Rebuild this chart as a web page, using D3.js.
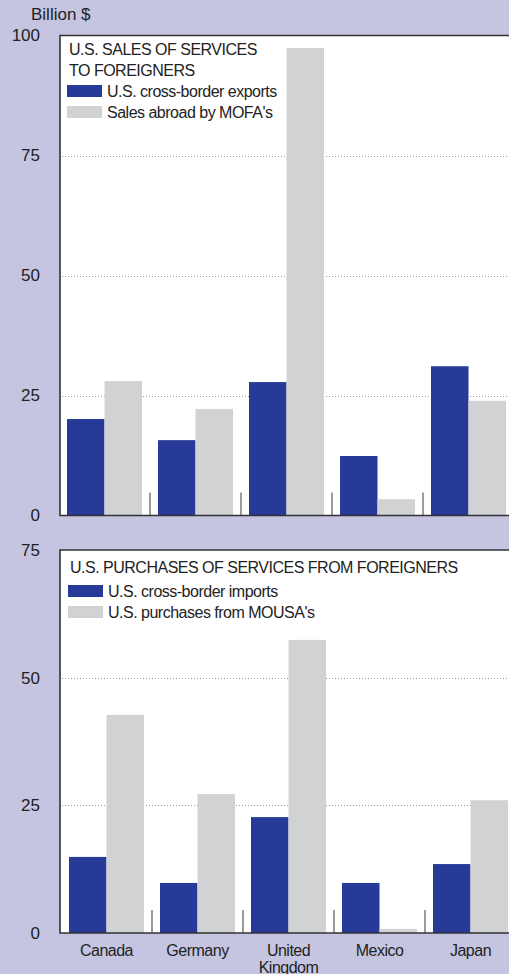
<!DOCTYPE html>
<html>
<head>
<meta charset="utf-8">
<script src="https://cdn.jsdelivr.net/npm/d3@7"></script>
<style>
  body { margin: 0; background: #c5c5e1; }
  svg { display: block; font-family: "Liberation Sans", Arial, Helvetica, sans-serif; }
  .tick text { fill: #222; font-size: 17px; }
  .lbl { fill: #222; font-size: 16px; letter-spacing: -0.5px; }
</style>
</head>
<body>
<div id="chart"></div>
<script>
var countries = ["Canada", "Germany", "United Kingdom", "Mexico", "Japan"];

// top panel: sales of services to foreigners
var crossBorderExports = [20.1, 15.7, 27.8, 12.4, 31.1];
var mofaSales = [28.0, 22.2, 97.4, 3.4, 23.9];

// bottom panel: purchases of services from foreigners
var crossBorderImports = [14.9, 9.8, 22.7, 9.8, 13.5];
var mousaPurchases = [42.7, 27.2, 57.4, 0.8, 26.0];

var topTicks = [0, 25, 50, 75, 100];
var bottomTicks = [0, 25, 50, 75];

var blue = "#273a97", grey = "#d1d2d4";

var width = 509, height = 974;
var svg = d3.select("#chart").append("svg")
    .attr("width", width).attr("height", height);

svg.append("text")
    .attr("class", "lbl")
    .attr("x", 31).attr("y", 20)
    .style("font-size", "17px").style("letter-spacing", "0px")
    .text("Billion $");

function drawPanel(cfg) {
  var g = svg.append("g");
  var left = 60;

  var x = d3.scaleBand().domain(countries).range(cfg.xRange);
  var x1 = d3.scaleBand().domain([0, 1]).range([8, 83]);
  var y = d3.scaleLinear().domain([0, cfg.max]).range(cfg.yRange);

  // white plot area
  g.append("rect")
      .attr("x", left).attr("y", y(cfg.max))
      .attr("width", width - left).attr("height", y(0) - y(cfg.max))
      .attr("fill", "#fff");

  // dotted gridlines
  g.selectAll(".grid")
    .data(cfg.ticks.filter(function(d) { return d > 0 && d < cfg.max; }))
    .enter().append("line")
      .attr("x1", left + 2).attr("x2", width)
      .attr("y1", function(d) { return Math.round(y(d)) + 0.5; })
      .attr("y2", function(d) { return Math.round(y(d)) + 0.5; })
      .attr("stroke", "#999").attr("stroke-dasharray", "1,2");

  // bars
  var groups = g.selectAll(".grp")
    .data(countries)
    .enter().append("g")
      .attr("transform", function(d) { return "translate(" + x(d) + ",0)"; });

  groups.selectAll("rect")
    .data(function(d, i) { return [cfg.a[i], cfg.b[i]]; })
    .enter().append("rect")
      .attr("x", function(d, j) { return x1(j); })
      .attr("width", x1.bandwidth())
      .attr("y", function(d) { return y(d); })
      .attr("height", function(d) { return y(0) - y(d); })
      .attr("fill", function(d, j) { return j === 0 ? blue : grey; });

  // small separators between groups
  g.selectAll(".sep")
    .data(countries.slice(1))
    .enter().append("line")
      .attr("x1", function(d) { return x(d); })
      .attr("x2", function(d) { return x(d); })
      .attr("y1", y(0)).attr("y2", y(0) - 23)
      .attr("stroke", "#666").attr("stroke-width", 1.3);

  // frame: top, left, bottom
  g.append("path")
      .attr("d", "M" + width + "," + y(cfg.max) + "H" + left + "V" + y(0) + "H" + width)
      .attr("fill", "none").attr("stroke", "#333").attr("stroke-width", 1.6);

  // y axis labels
  var axis = g.append("g")
      .attr("transform", "translate(" + left + ",0)")
      .call(d3.axisLeft(y).tickValues(cfg.ticks).tickSize(0).tickPadding(20));
  axis.select(".domain").remove();
  axis.selectAll("text").attr("font-family", null).attr("font-size", null);

  // legend
  var lg = g.append("g");
  lg.selectAll(".title")
    .data(cfg.title)
    .enter().append("text")
      .attr("class", "lbl")
      .attr("x", cfg.legendX).attr("y", function(d, i) { return cfg.titleY + i * 21; })
      .text(function(d) { return d; });

  var items = [cfg.aLabel, cfg.bLabel];
  lg.selectAll(".sw")
    .data(items)
    .enter().append("rect")
      .attr("x", cfg.legendX - 2).attr("y", function(d, i) { return cfg.itemY + i * 21 - 12; })
      .attr("width", 35).attr("height", 12)
      .attr("fill", function(d, i) { return i === 0 ? blue : grey; });
  lg.selectAll(".it")
    .data(items)
    .enter().append("text")
      .attr("class", "lbl")
      .attr("x", cfg.legendX + 38).attr("y", function(d, i) { return cfg.itemY + i * 21; })
      .text(function(d) { return d; });

  return x;
}

drawPanel({
  xRange: [59, 514], yRange: [515.5, 35.5], max: 100, ticks: topTicks,
  a: crossBorderExports, b: mofaSales,
  title: ["U.S. SALES OF SERVICES", "TO FOREIGNERS"], titleY: 55,
  aLabel: "U.S. cross-border exports", bLabel: "Sales abroad by MOFA's",
  legendX: 69, itemY: 97
});

var xb = drawPanel({
  xRange: [61, 516], yRange: [933, 550], max: 75, ticks: bottomTicks,
  a: crossBorderImports, b: mousaPurchases,
  title: ["U.S. PURCHASES OF SERVICES FROM FOREIGNERS"], titleY: 573,
  aLabel: "U.S. cross-border imports", bLabel: "U.S. purchases from MOUSA's",
  legendX: 70, itemY: 597
});

// country labels under bottom panel
svg.selectAll(".cname")
  .data(countries)
  .enter().append("text")
    .attr("class", "lbl")
    .attr("text-anchor", "middle")
    .attr("x", function(d) { return xb(d) + xb.bandwidth() / 2; })
    .attr("y", 956)
    .each(function(d) {
      var parts = d === "United Kingdom" ? ["United", "Kingdom"] : [d];
      var t = d3.select(this);
      parts.forEach(function(p, i) {
        t.append("tspan").attr("x", t.attr("x")).attr("dy", i === 0 ? 0 : 17).text(p);
      });
    });
</script>
</body>
</html>
